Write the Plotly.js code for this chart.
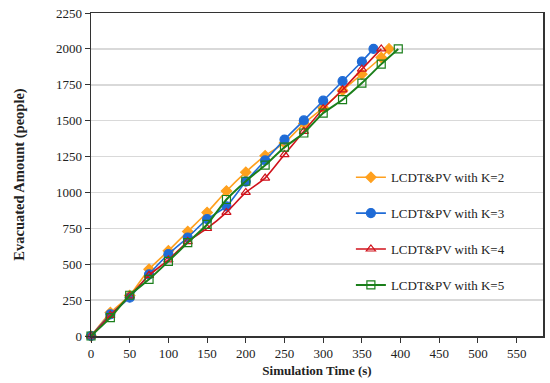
<!DOCTYPE html>
<html>
<head>
<meta charset="utf-8">
<script src="https://cdn.plot.ly/plotly-3.0.1.min.js"></script>
<style>html,body{margin:0;padding:0;background:#fff;}#chart{width:550px;height:383px;}</style>
</head>
<body>
<div id="chart"></div>
<script>
// Series names
const seriesNames = ["LCDT&PV with K=2", "LCDT&PV with K=3", "LCDT&PV with K=4", "LCDT&PV with K=5"];

// Simulation time (s) for each series
const timeK2 = [0, 25, 50, 75, 100, 125, 150, 175, 200, 225, 250, 275, 300, 325, 350, 375, 385];
const timeK3 = [0, 25, 50, 75, 100, 125, 150, 175, 200, 225, 250, 275, 300, 325, 350, 365];
const timeK4 = [0, 25, 50, 75, 100, 125, 150, 175, 200, 225, 250, 275, 300, 325, 350, 375];
const timeK5 = [0, 25, 50, 75, 100, 125, 150, 175, 200, 225, 250, 275, 300, 325, 350, 375, 397];

// Evacuated amount (people)
const evacK2 = [0, 163, 282, 465, 593, 728, 860, 1010, 1141, 1256, 1345, 1480, 1590, 1711, 1824, 1940, 2000];
const evacK3 = [0, 151, 267, 430, 570, 686, 814, 903, 1076, 1223, 1368, 1502, 1639, 1775, 1912, 2000];
const evacK4 = [0, 144, 279, 423, 530, 658, 749, 861, 1000, 1100, 1264, 1426, 1583, 1715, 1859, 2000];
const evacK5 = [0, 128, 284, 395, 520, 651, 777, 951, 1078, 1190, 1315, 1414, 1553, 1646, 1762, 1894, 2000];

// Axis ticks
const xTicks = [0, 50, 100, 150, 200, 250, 300, 350, 400, 450, 500, 550];
const yTicks = [0, 250, 500, 750, 1000, 1250, 1500, 1750, 2000, 2250];

const styles = [
  {color: '#FFA01E', symbol: 'diamond', size: 8, width: 1.6},
  {color: '#1F6BD6', symbol: 'circle', size: 9, width: 1.6},
  {color: '#D0121B', symbol: 'triangle-up-open', size: 8, width: 1.6},
  {color: '#1B7F1B', symbol: 'square-open', size: 8, width: 2}
];
const xs = [timeK2, timeK3, timeK4, timeK5];
const ys = [evacK2, evacK3, evacK4, evacK5];

const traces = seriesNames.map((n, i) => ({
  type: 'scatter', mode: 'lines+markers', name: n,
  x: xs[i], y: ys[i], legendgroup: 'g' + i, cliponaxis: false,
  line: {color: styles[i].color, width: styles[i].width, shape: 'spline', smoothing: 0.5},
  marker: {color: styles[i].color, symbol: styles[i].symbol, size: styles[i].size,
           line: {color: styles[i].color, width: 1.2}}
}));

const font = {family: '"Liberation Serif", "Times New Roman", serif', size: 13, color: '#222'};

const layout = {
  width: 550, height: 383,
  margin: {l: 91, r: 7, t: 13, b: 47},
  paper_bgcolor: '#fff', plot_bgcolor: '#fff',
  font: font,
  showlegend: true,
  legend: {x: 0.575, xanchor: 'left', y: 0.538, yanchor: 'top', bgcolor: 'rgba(0,0,0,0)',
           itemwidth: 30,
           font: {family: font.family, size: 13, color: '#222'}, tracegroupgap: 16},
  xaxis: {
    range: [0, 584], tickvals: xTicks, ticks: 'outside', ticklen: 5, tickcolor: '#333',
    showline: true, mirror: true, linecolor: '#333', linewidth: 1.5,
    showgrid: false, zeroline: false,
    title: {text: '<b>Simulation Time (s)</b>', font: {family: font.family, size: 13, color: '#222'}, standoff: 6}
  },
  yaxis: {
    range: [0, 2250], tickvals: yTicks, ticks: 'outside', ticklen: 5, tickcolor: '#333',
    showline: true, mirror: true, linecolor: '#333', linewidth: 1.5,
    showgrid: true, gridcolor: '#D9D9D9', gridwidth: 1.5, zeroline: false,
    title: {text: '<b>Evacuated Amount (people)</b>', font: {family: font.family, size: 14.5, color: '#222'}, standoff: 28}
  }
};

Plotly.newPlot('chart', traces, layout, {displayModeBar: false, staticPlot: true});
</script>
</body>
</html>
